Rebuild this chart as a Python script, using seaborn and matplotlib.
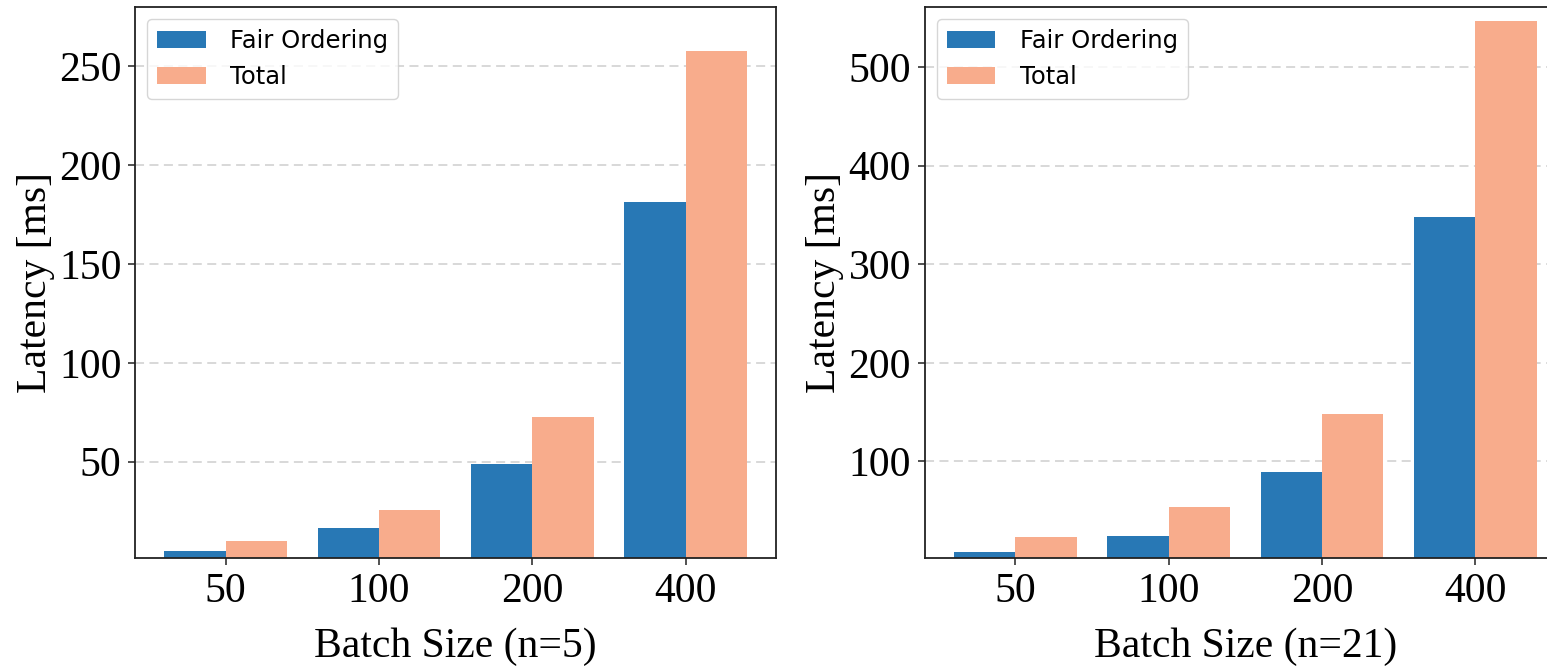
import matplotlib
matplotlib.use("Agg")
import matplotlib.pyplot as plt
import seaborn as sns
import pandas as pd

batch_sizes = ["50", "100", "200", "400"]
series_names = ["Fair Ordering", "Total"]
fair_n5 = [5.0, 16.3, 49.0, 181.2]
total_n5 = [9.9, 25.6, 72.5, 257.6]
fair_n21 = [8.6, 24.9, 89.1, 347.7]
total_n21 = [23.5, 54.3, 147.7, 546.7]
xlabels = ["Batch Size (n=5)", "Batch Size (n=21)"]
ylabel = "Latency [ms]"
yticks_n5 = [50, 100, 150, 200, 250]
yticks_n21 = [100, 200, 300, 400, 500]

colors = ["#2878B5", "#F8AC8C"]
serif = ["Liberation Serif", "DejaVu Serif"]

fig = plt.figure(figsize=(15.47, 6.66), dpi=100)
H = 666.0
W = 1547.0
bottom = (H - 558.3) / H
height = (558.3 - 7.0) / H
width = 640.7 / W
ax1 = fig.add_axes([135.3 / W, bottom, width, height])
ax2 = fig.add_axes([925.0 / W, bottom, width, height])

panels = [
    (ax1, fair_n5, total_n5, xlabels[0], yticks_n5, (1.2, 279.8)),
    (ax2, fair_n21, total_n21, xlabels[1], yticks_n21, (1.8, 561.0)),
]

for ax, fair, total, xl, yt, yl in panels:
    df = pd.DataFrame({
        "batch": batch_sizes * 2,
        "series": [series_names[0]] * 4 + [series_names[1]] * 4,
        "latency": fair + total,
    })
    ax.set_axisbelow(True)
    ax.yaxis.grid(True, linestyle=(0, (5, 3)), color="#d6d6d6", linewidth=1.3)
    sns.barplot(data=df, x="batch", y="latency", hue="series",
                order=batch_sizes, hue_order=series_names,
                palette=colors, errorbar=None, width=0.8,
                linewidth=0, saturation=1, ax=ax)
    ax.set_xlim(-0.59, 3.59)
    ax.set_ylim(*yl)
    ax.set_yticks(yt)
    ax.set_xlabel(xl, fontsize=30, family=serif, labelpad=12)
    ax.set_ylabel(ylabel, fontsize=30, family=serif, labelpad=3)
    for lab in ax.get_xticklabels() + ax.get_yticklabels():
        lab.set_family(serif)
        lab.set_fontsize(30)
    ax.tick_params(axis="both", direction="out", length=5, width=1.2,
                   color="#333333", pad=5)
    for sp in ax.spines.values():
        sp.set_linewidth(1.3)
        sp.set_color("#222222")
        sp.set_visible(True)
    handles, labels = ax.get_legend_handles_labels()
    ax.legend(handles, labels, loc="upper left", fontsize=17.5,
              frameon=True, fancybox=True, framealpha=0.8,
              handletextpad=1.0, edgecolor="#cccccc")

fig.savefig("out.png", dpi=100)
